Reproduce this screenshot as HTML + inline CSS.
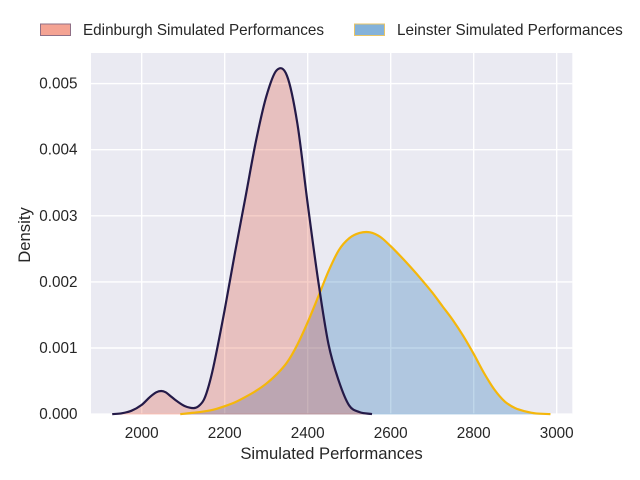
<!DOCTYPE html>
<html>
<head>
<meta charset="utf-8">
<style>
html,body{margin:0;padding:0;background:#fff;}
svg{display:block;font-family:"Liberation Sans",Arial,sans-serif;fill:#262626;}
</style>
</head>
<body>
<svg id="chart" width="640" height="480" viewBox="0 0 640 480" xmlns="http://www.w3.org/2000/svg">
  <rect x="91" y="53" width="481.3" height="361.4" fill="#eaeaf2"/>
  <g id="grid"></g>
  <g id="fills"></g>
  <g id="lines"></g>
  <g id="xticks"></g>
  <g id="yticks"></g>
  <text x="331.5" y="459" font-size="16.67" text-anchor="middle">Simulated Performances</text>
  <text transform="translate(30,235) rotate(-90)" font-size="16.67" text-anchor="middle">Density</text>
  <g>
    <g>
      <rect x="40.5" y="24" width="30" height="11.5" fill="#f4a393" stroke="#8f6f86" stroke-width="1"/>
      <text x="83" y="35" font-size="15.28">Edinburgh Simulated Performances</text>
    </g>
    <g>
      <rect x="354.5" y="24" width="30" height="11.5" fill="#84b2d9" stroke="#e8c568" stroke-width="1"/>
      <text x="397" y="35" font-size="15.28">Leinster Simulated Performances</text>
    </g>
  </g>
</svg>
<script>
const xTickValues = [2000, 2200, 2400, 2600, 2800, 3000];
const yTickValues = [0, 0.001, 0.002, 0.003, 0.004, 0.005];
const yTickLabels = ["0.000", "0.001", "0.002", "0.003", "0.004", "0.005"];

const edinburghX = [1929, 1950, 1975, 2000, 2020, 2035, 2047, 2058, 2068, 2084, 2104, 2125, 2137, 2150, 2162, 2175, 2200, 2225, 2250, 2275, 2300, 2325, 2350, 2375, 2400, 2425, 2450, 2475, 2500, 2525, 2555];
const edinburghDensity = [0, 0.00001, 0.00005, 0.00014, 0.00026, 0.00033, 0.00035, 0.00033, 0.00028, 0.0002, 0.00012, 0.00009, 0.00012, 0.00022, 0.00044, 0.00078, 0.00158, 0.00245, 0.00328, 0.00412, 0.0048, 0.0052, 0.00512, 0.0044, 0.00318, 0.00203, 0.00106, 0.0005, 0.00013, 0.00003, 0];

const leinsterX = [2093, 2125, 2150, 2175, 2200, 2225, 2250, 2275, 2300, 2325, 2350, 2375, 2400, 2425, 2450, 2475, 2500, 2525, 2550, 2575, 2600, 2625, 2650, 2675, 2700, 2725, 2750, 2775, 2800, 2825, 2850, 2875, 2900, 2925, 2950, 2985];
const leinsterDensity = [0, 0.00002, 0.00004, 0.00007, 0.00012, 0.00018, 0.00026, 0.00035, 0.00046, 0.0006, 0.00078, 0.00105, 0.00139, 0.00177, 0.00216, 0.00248, 0.00266, 0.00274, 0.00275, 0.00268, 0.00254, 0.00238, 0.00221, 0.00203, 0.00184, 0.00163, 0.00142, 0.00118, 0.00091, 0.00062, 0.00037, 0.00019, 0.00009, 0.00004, 0.00001, 0];

const NS = "http://www.w3.org/2000/svg";
const plot = { left: 91, right: 572.3, top: 53, bottom: 414.4 };
function xScale(v) { return 141.7 + (v - 2000) * 0.415; }
function yScale(v) { return 414.1 - v * 66100; }

function make(tag, attrs, parent) {
  const el = document.createElementNS(NS, tag);
  for (const k in attrs) el.setAttribute(k, attrs[k]);
  parent.appendChild(el);
  return el;
}

function curve(xs, ys) {
  const p = xs.map((x, i) => [xScale(x), yScale(ys[i])]);
  const n = p.length;
  const slope = p.map(function (q, i) {
    const a = p[Math.max(i - 1, 0)], b = p[Math.min(i + 1, n - 1)];
    return (b[1] - a[1]) / (b[0] - a[0]);
  });
  let d = "M" + p[0][0].toFixed(2) + " " + p[0][1].toFixed(2);
  for (let i = 0; i < n - 1; i++) {
    const h = (p[i + 1][0] - p[i][0]) / 3;
    const c1x = p[i][0] + h, c1y = Math.min(yScale(0), p[i][1] + slope[i] * h);
    const c2x = p[i + 1][0] - h, c2y = Math.min(yScale(0), p[i + 1][1] - slope[i + 1] * h);
    d += "C" + c1x.toFixed(2) + " " + c1y.toFixed(2) + " " + c2x.toFixed(2) + " " + c2y.toFixed(2) + " " + p[i + 1][0].toFixed(2) + " " + p[i + 1][1].toFixed(2);
  }
  return d;
}

const grid = document.getElementById("grid");
const xticks = document.getElementById("xticks");
const yticks = document.getElementById("yticks");
const fills = document.getElementById("fills");
const lines = document.getElementById("lines");

xTickValues.forEach(function (v) {
  const g = make("line", { x1: xScale(v), x2: xScale(v), y1: plot.top, y2: plot.bottom, stroke: "#fff", "stroke-width": 1.39 }, grid);
  
  
  const t = make("text", { x: xScale(v), y: 438, "font-size": 15.28, "text-anchor": "middle" }, xticks);
  
  
  t.textContent = String(v);
});

yTickValues.forEach(function (v, i) {
  const g = make("line", { x1: plot.left, x2: plot.right, y1: yScale(v), y2: yScale(v), stroke: "#fff", "stroke-width": 1.39 }, grid);
  
  
  const t = make("text", { x: 77.5, y: yScale(v) + 5, "font-size": 15.28, "text-anchor": "end" }, yticks);
  
  
  t.textContent = yTickLabels[i];
});

const leinsterCurve = curve(leinsterX, leinsterDensity);
const edinburghCurve = curve(edinburghX, edinburghDensity);
const leinsterBase = "L" + xScale(leinsterX[leinsterX.length - 1]) + " " + yScale(0) + "L" + xScale(leinsterX[0]) + " " + yScale(0) + "Z";
const edinburghBase = "L" + xScale(edinburghX[edinburghX.length - 1]) + " " + yScale(0) + "L" + xScale(edinburghX[0]) + " " + yScale(0) + "Z";

const leinsterFill = make("path", { d: leinsterCurve + leinsterBase, fill: "rgb(2,94,170)", "fill-opacity": 0.25, stroke: "rgb(2,94,170)", "stroke-opacity": 0.12, "stroke-width": 1.5 }, fills);


const edinburghFill = make("path", { d: edinburghCurve + edinburghBase, fill: "rgb(222,66,38)", "fill-opacity": 0.25, stroke: "rgb(240,80,50)", "stroke-opacity": 0.14, "stroke-width": 1.5 }, fills);



const leinsterLine = make("path", { d: leinsterCurve, fill: "none", stroke: "#f5b70a", "stroke-width": 2.2 }, lines);


const edinburghLine = make("path", { d: edinburghCurve, fill: "none", stroke: "#241a48", "stroke-width": 2.2 }, lines);


</script>
</body>
</html>
